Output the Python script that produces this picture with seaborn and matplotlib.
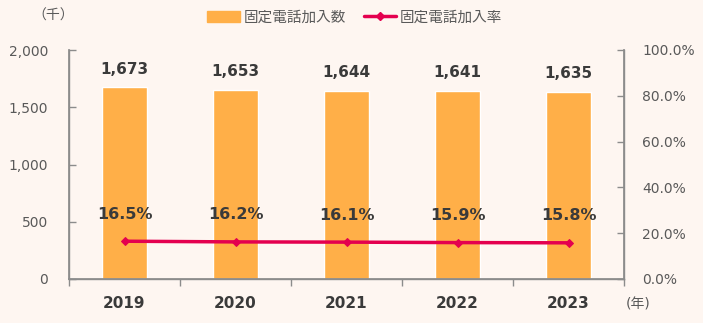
import matplotlib
matplotlib.use("Agg")
import matplotlib.pyplot as plt
import seaborn as sns
import pandas as pd
import numpy as np
from matplotlib.patches import Patch
from matplotlib.lines import Line2D

years = ["2019", "2020", "2021", "2022", "2023"]
subscribers = [1673, 1653, 1644, 1641, 1635]
rates = [16.5, 16.2, 16.1, 15.9, 15.8]
bar_labels = ["1,673", "1,653", "1,644", "1,641", "1,635"]
rate_labels = ["16.5%", "16.2%", "16.1%", "15.9%", "15.8%"]
left_ticks = [0, 500, 1000, 1500, 2000]
left_tick_labels = ["0", "500", "1,000", "1,500", "2,000"]
right_ticks = [0, 20, 40, 60, 80, 100]
right_tick_labels = ["0.0%", "20.0%", "40.0%", "60.0%", "80.0%", "100.0%"]

sns.set_theme(style="white")
plt.rcParams['font.family'] = ['DejaVu Sans', 'Noto Sans CJK JP']

BG = "#FEF6F1"
BAR = "#FFAF48"
LINE = "#E4004F"
AX = "#8C8C8C"
TXT = "#3A3A3A"
TICK = "#595959"

df = pd.DataFrame({"year": years, "subs": subscribers, "rate": rates})

fig = plt.figure(figsize=(7.03, 3.23), dpi=100, facecolor=BG)
ax = fig.add_axes([69/703, 1-279/323, (624-69)/703, (279-50)/323])
ax.set_facecolor(BG)

sns.barplot(data=df, x="year", y="subs", color=BAR, width=0.4, ax=ax, saturation=1)
ax.set_ylim(0, 2000)
ax.set_xlim(-0.5, 4.5)
ax.set_yticks(left_ticks)
ax.set_yticklabels(left_tick_labels, color=TICK, fontsize=10)
ax.set_xlabel("")
ax.set_ylabel("")
ax.tick_params(axis="y", direction="in", length=5, color=AX, width=1, pad=15, left=True)
ax.set_xticks(np.arange(5))
ax.set_xticklabels(years, fontsize=11, fontweight="bold", color=TXT)
ax.tick_params(axis="x", length=0, pad=12)
ax.set_xticks(np.arange(-0.5, 5, 1), minor=True)
ax.tick_params(axis="x", which="minor", direction="out", length=5, color=AX, width=1, bottom=True)

ax.spines["top"].set_visible(False)
for s in ["left", "bottom", "right"]:
    ax.spines[s].set_color(AX)
    ax.spines[s].set_linewidth(1)

for i, lab in enumerate(bar_labels):
    ax.text(i, subscribers[i] + 95, lab, ha="center", va="bottom", fontsize=11,
            fontweight="bold", color=TXT)

ax2 = ax.twinx()
sns.lineplot(data=df, x="year", y="rate", ax=ax2, color=LINE, linewidth=2.5,
             marker="D", markersize=4.5, markeredgecolor=LINE, sort=False)
ax2.set_ylim(0, 100)
ax2.set_yticks(right_ticks)
ax2.set_yticklabels(right_tick_labels, color=TICK, fontsize=10)
ax2.set_ylabel("")
ax2.tick_params(axis="y", direction="in", length=5, color=AX, width=1, pad=13, right=True)
ax2.spines["top"].set_visible(False)
for s in ["left", "bottom", "right"]:
    ax2.spines[s].set_color(AX)
for i, lab in enumerate(rate_labels):
    ax2.text(i, rates[i] + 8.5, lab, ha="center", va="bottom", fontsize=11.5,
             fontweight="bold", color=TXT)

fig.text(53/703, 1-16/323, "（千）", ha="center", va="center", fontsize=10, color=TICK)
fig.text(638/703, 1-305/323, "(年)", ha="center", va="center", fontsize=10, color=TICK)

handles = [Patch(facecolor=BAR, edgecolor=BAR),
           Line2D([0], [0], color=LINE, lw=2.5, marker="D", markersize=4.5)]
fig.legend(handles, ["固定電話加入数", "固定電話加入率"], loc="center",
           bbox_to_anchor=(355/703, 1-17/323), ncol=2, frameon=False,
           fontsize=10.5, handlelength=2.2, columnspacing=1.2, handletextpad=0.3,
           labelcolor=TICK)

fig.savefig("out.png", dpi=100, facecolor=BG)
